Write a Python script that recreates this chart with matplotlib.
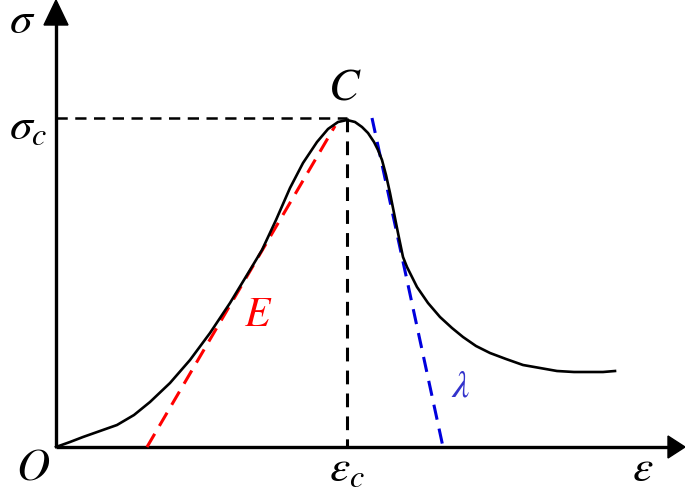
import matplotlib
matplotlib.use("Agg")
import matplotlib.pyplot as plt
from matplotlib.patches import Polygon

plt.rcParams['mathtext.fontset'] = 'stix'
plt.rcParams['font.family'] = ['Liberation Serif', 'DejaVu Serif']

# data in picture units (origin at O, y upward)
curve_x = [0, 14, 27, 44, 61, 78, 94, 114, 134, 154, 174, 194, 206, 220, 234,
           247, 261, 272, 282, 291, 299, 306, 312, 318, 322, 326, 330, 334, 338,
           342, 347, 351, 356, 361, 372, 384, 396, 407, 420, 434, 450, 467, 484,
           501, 518, 534, 547, 559]
curve_y = [0, 5, 10, 16, 22, 32, 45, 64, 87, 114, 144, 177, 197, 227, 259,
           284, 305, 318, 325, 327, 325, 320, 314, 305, 297, 287, 272, 254, 234,
           214, 190, 180, 170, 160, 144, 130, 119, 110, 101, 94, 88, 82, 79,
           76, 75, 75, 75, 76]

peak_x, peak_y = 291, 329
E_line_x = [91, 279]
E_line_y = [0, 321]
lam_line_x = [316, 387]
lam_line_y = [329, 0]

fig = plt.figure(figsize=(6.85, 4.91), dpi=100)
ax = fig.add_axes([0, 0, 1, 1])
ax.set_xlim(-56, 629)
ax.set_ylim(-44, 447)
ax.axis('off')

# axes with arrows
ax.plot([0, 615], [0, 0], color='black', lw=2.4, solid_capstyle='butt')
ax.plot([0, 0], [0, 425], color='black', lw=2.4, solid_capstyle='butt')
ax.add_patch(Polygon([[612, 11], [629, 0], [612, -11]], closed=True, color='black'))
ax.add_patch(Polygon([[-12, 422], [0, 447], [12, 422]], closed=True, color='black'))

# reference dashed lines
ax.plot([0, peak_x], [peak_y, peak_y], color='black', lw=1.8, ls=(0, (4.5, 3)))
ax.plot([peak_x, peak_x], [peak_y, 0], color='black', lw=2.2, ls=(0, (4.5, 3)))

ax.plot(E_line_x, E_line_y, color='#ff0000', lw=2.2, ls=(0, (5, 3)))
ax.plot(lam_line_x, lam_line_y, color='#0000dd', lw=2.2, ls=(0, (5, 3)))

ax.plot(curve_x, curve_y, color='black', lw=1.9, solid_joinstyle='round')

fs = 33
ax.text(-34, 425, r'$\sigma$', fontsize=fs, ha='center', va='center')
ax.text(-28, 319, r'$\sigma_c$', fontsize=fs, ha='center', va='center')
ax.text(289, 359, '$C$', fontsize=fs, ha='center', va='center')
ax.text(202, 131, '$E$', fontsize=fs - 3, ha='center', va='center', color='#ff0000')
ax.text(405, 60, r'$\lambda$', fontsize=fs - 5, ha='center', va='center', color='#3333cc')
ax.text(-23, -21, '$O$', fontsize=fs, ha='center', va='center')
ax.text(291, -23, r'$\varepsilon_c$', fontsize=fs, ha='center', va='center')
ax.text(587, -23, r'$\varepsilon$', fontsize=fs, ha='center', va='center')

fig.savefig('out.png', dpi=100)
